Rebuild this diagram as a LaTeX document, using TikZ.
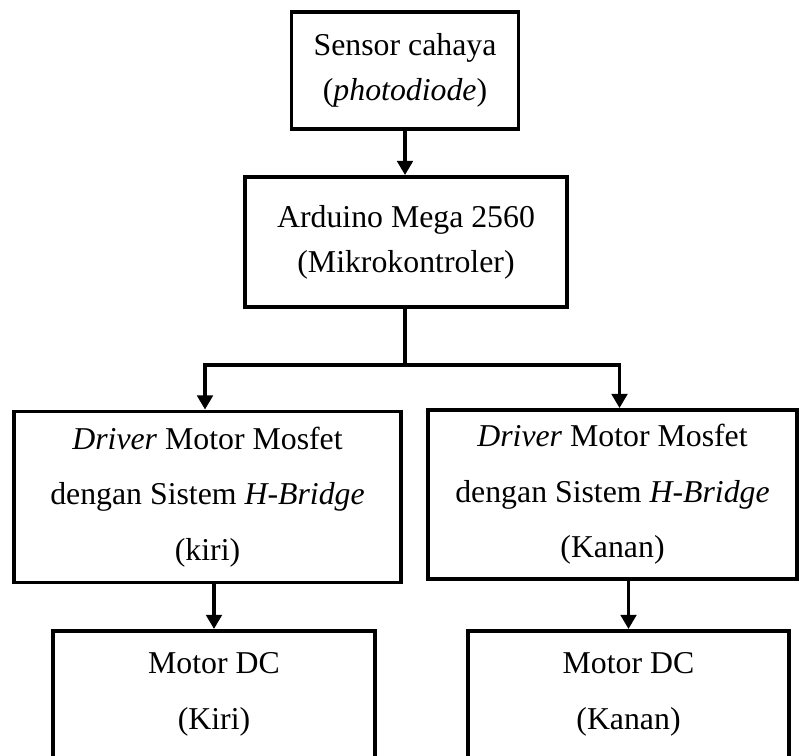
\documentclass[tikz,border=0pt]{standalone}
\usepackage{fontspec}
\setmainfont{Liberation Serif}
\usepackage{tikz}
\usetikzlibrary{arrows.meta,positioning}
\def\px{0.39pt}

\begin{document}
\begin{tikzpicture}[x=0.39pt, y=-0.39pt,
  bloc/.style={draw, line width=1.5pt, align=center, inner sep=0pt,
    font=\fontsize{12.4}{17.5}\selectfont},
  grandbloc/.style={bloc, font=\fontsize{12.4}{21.6}\selectfont},
  fleche/.style={line width=1.5pt, -{Triangle[length=5.5pt, width=6pt]}}]

  % Cadre de l'image
  \clip (0,0) rectangle (800,755);

  % Blocs du haut
  \node[bloc, minimum width=227*\px, minimum height=117*\px] (sensor) at (405,70.5)
    {Sensor cahaya\\(\textit{photodiode})};
  \node[bloc, minimum width=322*\px, minimum height=130*\px] (arduino) at (406,242)
    {Arduino Mega 2560\\(Mikrokontroler)};

  % Drivers
  \node[grandbloc, minimum width=387*\px, minimum height=171*\px] (driverL) at (207.5,497)
    {\textit{Driver} Motor Mosfet\\dengan Sistem \textit{H-Bridge}\\(kiri)};
  \node[grandbloc, minimum width=369*\px, minimum height=169*\px] (driverR) at (612.5,494.5)
    {\textit{Driver} Motor Mosfet\\dengan Sistem \textit{H-Bridge}\\(Kanan)};

  % Moteurs (coupés en bas)
  \node[grandbloc, anchor=north, inner sep=8.5pt, minimum width=322*\px] (motorL) at (214,629)
    {Motor DC\\(Kiri)\rule[-25pt]{0pt}{25pt}};
  \node[grandbloc, anchor=north, inner sep=8.5pt, minimum width=321*\px] (motorR) at (628.5,629)
    {Motor DC\\(Kanan)\rule[-25pt]{0pt}{25pt}};

  % Flèches
  \coordinate (cabang) at (405,365);
  \draw[fleche] (sensor.south) -- (sensor.south |- arduino.north);
  \draw[line width=1.5pt] (arduino.south -| cabang) -- (cabang);
  \draw[fleche] (cabang) -| ([xshift=-2.5*\px]driverL.north);
  \draw[fleche] (cabang) -| ([xshift=7*\px]driverR.north);
  \draw[fleche] (driverL.south -| motorL.north) -- (motorL.north);
  \draw[fleche] (driverR.south -| motorR.north) -- (motorR.north);

\end{tikzpicture}
\end{document}
